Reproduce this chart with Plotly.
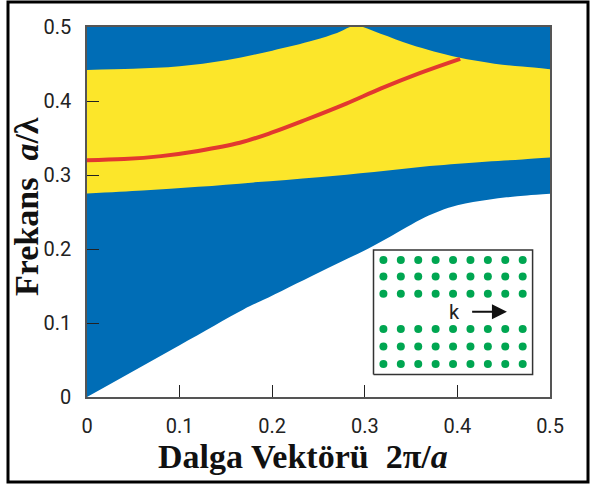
import plotly.graph_objects as go

# ---- data ----
K_LIGHT = [0, 0.1, 0.1685, 0.19, 0.25, 0.309, 0.345, 0.365, 0.381, 0.4, 0.417, 0.435, 0.453, 0.475, 0.5]
F_LIGHT = [0, 0.070, 0.118, 0.131, 0.168, 0.204, 0.2295, 0.243, 0.2515, 0.259, 0.2635, 0.267, 0.2698, 0.2722, 0.2745]

K_GAP_LO = [0, 0.06, 0.12, 0.18, 0.25, 0.31, 0.37, 0.43, 0.47, 0.5]
F_GAP_LO = [0.275, 0.279, 0.284, 0.290, 0.297, 0.304, 0.312, 0.318, 0.321, 0.3235]

K_GAP_HI = [0, 0.05, 0.1, 0.15, 0.2, 0.245, 0.27, 0.29, 0.317, 0.35, 0.4, 0.44, 0.47, 0.5]
F_GAP_HI = [0.442, 0.4435, 0.447, 0.455, 0.468, 0.482, 0.492, 0.5015, 0.491, 0.476, 0.459, 0.4505, 0.4465, 0.443]

K_MODE = [0, 0.04, 0.08, 0.12, 0.165, 0.2, 0.237, 0.28, 0.317, 0.36, 0.403]
F_MODE = [0.320, 0.3215, 0.3255, 0.3325, 0.3435, 0.3575, 0.375, 0.3965, 0.4167, 0.438, 0.457]

K_TOP = [0, 0.5]
F_TOP = [0.55, 0.55]

# inset (waveguide sketch)
INSET_X = [0.3094, 0.4812, 0.4812, 0.3094, 0.3094]
INSET_Y = [0.0303, 0.0303, 0.1988, 0.1988, 0.0303]
ROD_COLS = [0.3201 + 0.0188 * i for i in range(9)]
ROD_ROWS = [0.1853, 0.1628, 0.1395, 0.0918, 0.0684, 0.0447]

X_TICKS = [0, 0.1, 0.2, 0.3, 0.4, 0.5]
Y_TICKS = [0, 0.1, 0.2, 0.3, 0.4, 0.5]

BLUE = "#006db6"
YELLOW = "#fce62a"
RED = "#e2382f"
GREEN = "#00a651"

fig = go.Figure()

# blue: everything above the light line
fig.add_trace(go.Scatter(x=K_LIGHT, y=F_LIGHT, mode="lines", line=dict(width=0, shape="spline", color=BLUE),
                         hoverinfo="skip", showlegend=False))
fig.add_trace(go.Scatter(x=K_TOP, y=F_TOP, mode="lines", line=dict(width=0, color=BLUE),
                         fill="tonexty", fillcolor=BLUE, hoverinfo="skip", showlegend=False))
# yellow band gap
fig.add_trace(go.Scatter(x=K_GAP_LO, y=F_GAP_LO, mode="lines", line=dict(width=0, shape="spline", color=YELLOW),
                         hoverinfo="skip", showlegend=False))
fig.add_trace(go.Scatter(x=K_GAP_HI, y=F_GAP_HI, mode="lines", line=dict(width=0, shape="spline", color=YELLOW),
                         fill="tonexty", fillcolor=YELLOW, hoverinfo="skip", showlegend=False))
# guided mode
fig.add_trace(go.Scatter(x=K_MODE, y=F_MODE, mode="lines", line=dict(width=4, shape="spline", color=RED),
                         showlegend=False))
# inset box
fig.add_trace(go.Scatter(x=INSET_X, y=INSET_Y, mode="lines", fill="toself", fillcolor="white",
                         line=dict(color="#333333", width=1.5), hoverinfo="skip", showlegend=False))
# rods
rx = [c for r in ROD_ROWS for c in ROD_COLS]
ry = [r for r in ROD_ROWS for c in ROD_COLS]
fig.add_trace(go.Scatter(x=rx, y=ry, mode="markers", marker=dict(size=8, color=GREEN),
                         hoverinfo="skip", showlegend=False))

fig.add_annotation(x=0.4535, y=0.1152, ax=0.4143, ay=0.1152, axref="x", ayref="y", xref="x", yref="y",
                   text="", showarrow=True, arrowhead=2, arrowsize=1.5, arrowwidth=2, arrowcolor="#111111")
fig.add_annotation(x=0.3965, y=0.1146, xref="x", yref="y", text="k", showarrow=False,
                   font=dict(family="Roboto", size=20, color="#222222"))

# axis titles
L, R, T, B = 87, 43, 27, 91
W, H = 593, 488
pw, ph = W - L - R, H - T - B

def px2paper(px, py):
    return (px - L) / pw, (H - B - py) / ph

tx, ty = px2paper(303, 456)
fig.add_annotation(x=tx, y=ty, xref="paper", yref="paper", showarrow=False,
                   text="<b>Dalga Vektörü\u00a0 2π/<i>a</i></b>",
                   font=dict(family="Liberation Serif", size=34, color="#111111"),
                   xanchor="center", yanchor="middle")
tx, ty = px2paper(26, 207)
fig.add_annotation(x=tx, y=ty, xref="paper", yref="paper", showarrow=False, textangle=-90,
                   text="<b>Frekans\u00a0 <i>a</i>/λ</b>",
                   font=dict(family="Liberation Serif", size=34, color="#111111"),
                   xanchor="center", yanchor="middle")

# outer border
x0, y0 = px2paper(8, 482)
x1, y1 = px2paper(588, 2)
fig.add_shape(type="rect", xref="paper", yref="paper", x0=x0, y0=y0, x1=x1, y1=y1,
              line=dict(color="black", width=3), fillcolor="rgba(0,0,0,0)", layer="above")

axis_common = dict(showgrid=False, zeroline=False, showline=True, linecolor="#555555", linewidth=1.5,
                   mirror=True, ticks="inside", ticklen=12, tickwidth=1.3, tickcolor="#222222",
                   tickfont=dict(family="Roboto", size=20, color="#222222"))
fig.update_xaxes(range=[0, 0.5], tickvals=X_TICKS, ticktext=[f"{v:g}" for v in X_TICKS],
                 ticklabelstandoff=10, **axis_common)
fig.update_yaxes(range=[0, 0.5], tickvals=Y_TICKS, ticktext=[f"{v:g}" for v in Y_TICKS],
                 ticklabelstandoff=10, **axis_common)

fig.update_layout(width=W, height=H, margin=dict(l=L, r=R, t=T, b=B),
                  paper_bgcolor="white", plot_bgcolor="white")

fig.write_html("out.html")
